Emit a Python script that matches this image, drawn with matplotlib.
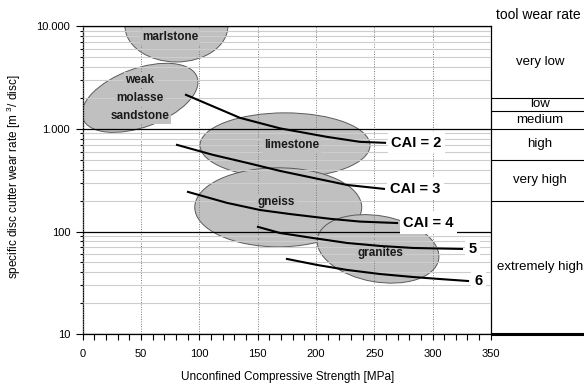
#!/usr/bin/env python3
"""
Specific disc cutter wear rate vs. unconfined compressive strength,
with typical rock fields, CAI trend lines and tool wear rate classes.
"""

import numpy as np
import matplotlib
matplotlib.use('Agg')
import matplotlib.pyplot as plt
import matplotlib.transforms as mtransforms
from matplotlib.patches import Ellipse
from matplotlib.ticker import MultipleLocator, FuncFormatter, LogLocator

plt.rcParams['font.family'] = ['Liberation Sans', 'DejaVu Sans']
plt.rcParams['mathtext.fontset'] = 'custom'
plt.rcParams['mathtext.rm'] = 'Liberation Sans'
plt.rcParams['mathtext.it'] = 'Liberation Sans:italic'
plt.rcParams['mathtext.bf'] = 'Liberation Sans:bold'

# rock fields (centre, extent in MPa and in decades of wear rate, tilt)
rock_names = ['marlstone', 'weak\nmolasse\nsandstone', 'limestone', 'gneiss', 'granites']
rock_ucs = [80.4, 49.1, 173.5, 167.7, 253.3]
rock_rate = [10000, 2000, 689, 172, 67.8]
rock_width = [88.3, 104.3, 145.8, 143.2, 105.5]
rock_height = [0.70, 0.571, 0.633, 0.769, 0.643]
rock_tilt = [0, 20, 0, 0, -10]
rock_label_ucs = [75, 49.1, 179.5, 166.2, 255.2]
rock_label_rate = [7850, 2000, 695, 194, 61.9]

# CAI trend lines
cai2_ucs = [88.6, 134.9, 169.3, 209.5, 237.8, 259.3]
cai2_rate = [2138, 1277, 1009, 834, 746, 730]
cai3_ucs = [80.9, 111.8, 140.9, 169.2, 197.5, 226.7, 258.4]
cai3_rate = [697, 557, 466, 389, 333, 284, 260]
cai4_ucs = [90.3, 123.8, 152.1, 177.8, 212.1, 237.8, 269.6]
cai4_rate = [243, 190, 162, 148, 133, 125, 121]
cai5_ucs = [150.3, 169.2, 197.5, 226.7, 255.0, 283.3, 325.3]
cai5_rate = [111, 96.8, 86.5, 77.4, 72.4, 69.2, 67.7]
cai6_ucs = [175.2, 201.0, 226.7, 255.0, 283.3, 306.5, 330.5]
cai6_rate = [54.1, 47.3, 42.3, 38.6, 36.1, 34.5, 33.0]
cai_labels = ['CAI = 2', 'CAI = 3', 'CAI = 4', '5', '6']

# tool wear rate classes (bounds in m3/disc, top to bottom)
wear_classes = ['very low', 'low', 'medium', 'high', 'very high', 'extremely high']
wear_bounds = [10000, 2000, 1500, 1000, 500, 200, 10]

UCS_MAX = 350
RATE_MIN, RATE_MAX = 10, 10000
FIELD_GRAY = '#c0c0c0'
LINE_STEP = 13  # pt between lines of a field label

W, H = 584, 385
fig = plt.figure(figsize=(W / 100, H / 100), dpi=100)
left, right, bottom, top = 82.7, 490.8, 334.3, 26.0
ax = fig.add_axes([left / W, 1 - bottom / H, (right - left) / W, (bottom - top) / H])

ax.set_yscale('log')
ax.set_xlim(0, UCS_MAX)
ax.set_ylim(RATE_MIN, RATE_MAX)
ax.set_axisbelow(False)

# ellipses live in a space where 1 decade has the same screen length as K MPa
n_dec = np.log10(RATE_MAX / RATE_MIN)
ax_w_px = right - left
ax_h_px = bottom - top
K = (ax_h_px / n_dec) / (ax_w_px / UCS_MAX)
field_trans = (mtransforms.Affine2D()
               .scale(1 / UCS_MAX, 1 / (n_dec * K))
               .translate(0, -np.log10(RATE_MIN) / n_dec)
               + ax.transAxes)

for i in range(len(rock_names)):
    e = Ellipse((rock_ucs[i], np.log10(rock_rate[i]) * K),
                rock_width[i], rock_height[i] * K, angle=rock_tilt[i],
                transform=field_trans, facecolor=FIELD_GRAY,
                edgecolor='#5a5a5a', linewidth=0.7, zorder=1)
    ax.add_patch(e)
    # one text per line so each backing box hugs its own word
    lines = rock_names[i].split('\n')
    n = len(lines)
    for j, word in enumerate(lines):
        ax.annotate(word, (rock_label_ucs[i], rock_label_rate[i]),
                    xytext=(0, ((n - 1) / 2 - j) * LINE_STEP), textcoords='offset points',
                    ha='center', va='center', fontsize=8.5, fontweight='bold',
                    color='#1a1a1a', zorder=3,
                    bbox=dict(boxstyle='square,pad=0.15', facecolor=FIELD_GRAY,
                              edgecolor='none'))

# grid
ax.yaxis.grid(True, which='minor', color='#cdcdcd', linewidth=0.8, zorder=2.5)
ax.yaxis.grid(True, which='major', color='black', linewidth=0.9, zorder=2.6)
ax.xaxis.grid(True, which='major', color='#7a7a7a', linestyle=(0, (1, 1.5)),
              linewidth=0.7)

# CAI lines
curves = [(cai2_ucs, cai2_rate), (cai3_ucs, cai3_rate), (cai4_ucs, cai4_rate),
          (cai5_ucs, cai5_rate), (cai6_ucs, cai6_rate)]
for (xs, ys), lab in zip(curves, cai_labels):
    ax.plot(xs, ys, color='black', linewidth=1.5, zorder=5)
    ax.annotate(lab, (xs[-1], ys[-1]), xytext=(4.5, 0), textcoords='offset points',
                ha='left', va='center', fontsize=10.5, fontweight='bold', zorder=4,
                bbox=dict(boxstyle='square,pad=0.25', facecolor='white',
                          edgecolor='none'))

# ticks and labels
ax.xaxis.set_major_locator(MultipleLocator(50))
ax.xaxis.set_minor_locator(MultipleLocator(10))
ax.yaxis.set_major_locator(LogLocator(base=10))
ax.yaxis.set_minor_locator(LogLocator(base=10, subs=np.arange(2, 10)))
ax.yaxis.set_major_formatter(FuncFormatter(lambda v, p: f'{int(round(v)):,}'.replace(',', '.')))
ax.yaxis.set_minor_formatter(FuncFormatter(lambda v, p: ''))
ax.tick_params(axis='x', which='both', direction='out', length=4, width=0.8,
               labelsize=8, pad=6.5)
ax.tick_params(axis='y', which='major', direction='out', length=5, width=0.8,
               labelsize=8, pad=4)
ax.tick_params(axis='y', which='minor', direction='out', length=2.5, width=0.8)
for s in ax.spines.values():
    s.set_linewidth(0.9)
    s.set_color('black')

ax.set_xlabel('Unconfined Compressive Strength [MPa]', fontsize=8.5)
ax.xaxis.set_label_coords(0.503, -0.118)
ax.set_ylabel('specific disc cutter wear rate [m $^{3}$/ disc]', fontsize=8.5)
ax.yaxis.set_label_coords(-0.147, 0.51)

# tool wear rate classes beside the plot
tax = fig.add_axes([right / W, 1 - bottom / H, (589 - right) / W, (bottom - top) / H])
tax.set_yscale('log')
tax.set_xlim(0, 1)
tax.set_ylim(RATE_MIN, RATE_MAX)
tax.axis('off')
tax.hlines(wear_bounds[1:-1], 0, 1, color='black', linewidth=0.8, clip_on=False, zorder=3)
tax.hlines(wear_bounds[-1], 0, 1, color='black', linewidth=2.2, clip_on=False, zorder=3)
for name, hi, lo in zip(wear_classes, wear_bounds[:-1], wear_bounds[1:]):
    tax.text(0.5, np.sqrt(hi * lo), name, ha='center', va='center', fontsize=9.5,
             zorder=2, clip_on=False)
tax.text(0.48, 1.037, 'tool wear rate', transform=tax.transAxes,
         ha='center', va='center', fontsize=10, clip_on=False)

fig.savefig('out.png', dpi=100)
